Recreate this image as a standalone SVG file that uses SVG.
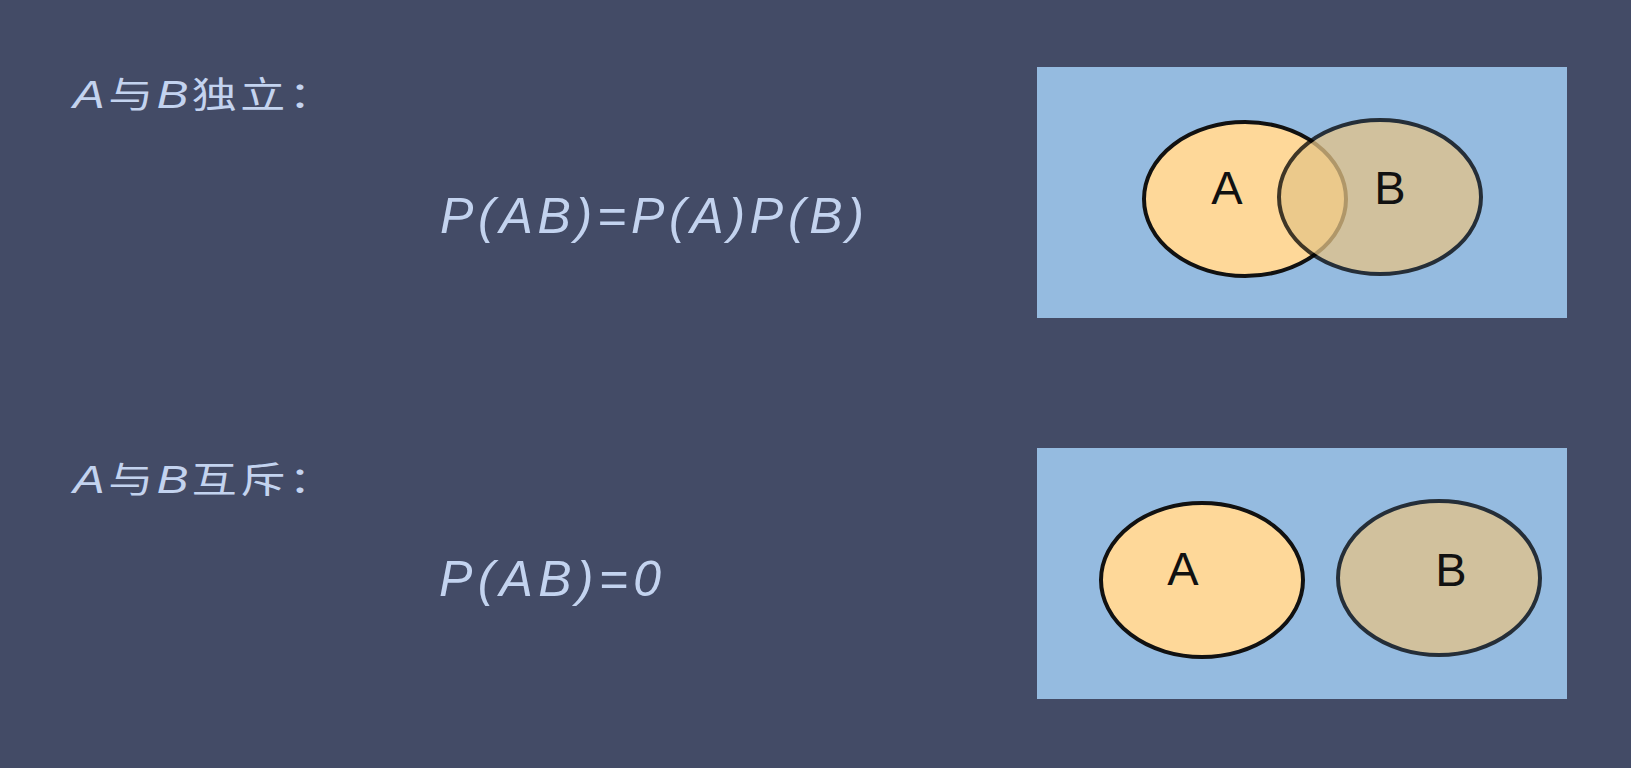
<svg xmlns="http://www.w3.org/2000/svg" width="1631" height="768" viewBox="0 0 1631 768">
<style>
.bg{fill:#434b66}
.box{fill:#95bbe0}
.ea{fill:#fed899;stroke:#111;stroke-width:4}
.eb{fill:#e5c487;stroke:#000;stroke-width:4}
.gb{opacity:0.75}
.lbl{font-family:"Liberation Sans","Noto Sans CJK SC",sans-serif;font-size:47px;fill:#111;text-anchor:middle}
.head{font-family:"Noto Sans CJK SC",sans-serif;font-size:36px;fill:#c3d3ef;letter-spacing:2.8px}
.it{font-family:"Liberation Sans",sans-serif;font-style:italic;font-size:38px}
.f{font-family:"Liberation Sans",sans-serif;font-style:italic;font-size:50px;fill:#c3d3ef}
</style>
<rect class="bg" x="0" y="0" width="1631" height="768"/>
<g id="independent">
<text class="head" transform="translate(73,108) scale(1.25,1)"><tspan class="it">A</tspan>与<tspan class="it">B</tspan>独立：</text>
<text class="f" x="440" y="233" textLength="424" lengthAdjust="spacing">P(AB)=P(A)P(B)</text>
</g>
<g id="venn1">
<rect class="box" x="1037" y="67" width="530" height="251"/>
<ellipse class="ea" cx="1245" cy="199" rx="101" ry="77"/>
<g class="gb"><ellipse class="eb" cx="1380" cy="197" rx="101" ry="77"/></g>
<text class="lbl" x="1227" y="204">A</text>
<text class="lbl" x="1390" y="204">B</text>
</g>
<g id="exclusive">
<text class="head" transform="translate(73,493) scale(1.25,1)"><tspan class="it">A</tspan>与<tspan class="it">B</tspan>互斥：</text>
<text class="f" x="439" y="596" textLength="222" lengthAdjust="spacing">P(AB)=0</text>
</g>
<g id="venn2">
<rect class="box" x="1037" y="448" width="530" height="251"/>
<ellipse class="ea" cx="1202" cy="580" rx="101" ry="77"/>
<g class="gb"><ellipse class="eb" cx="1439" cy="578" rx="101" ry="77"/></g>
<text class="lbl" x="1183" y="585">A</text>
<text class="lbl" x="1451" y="586">B</text>
</g>
</svg>
